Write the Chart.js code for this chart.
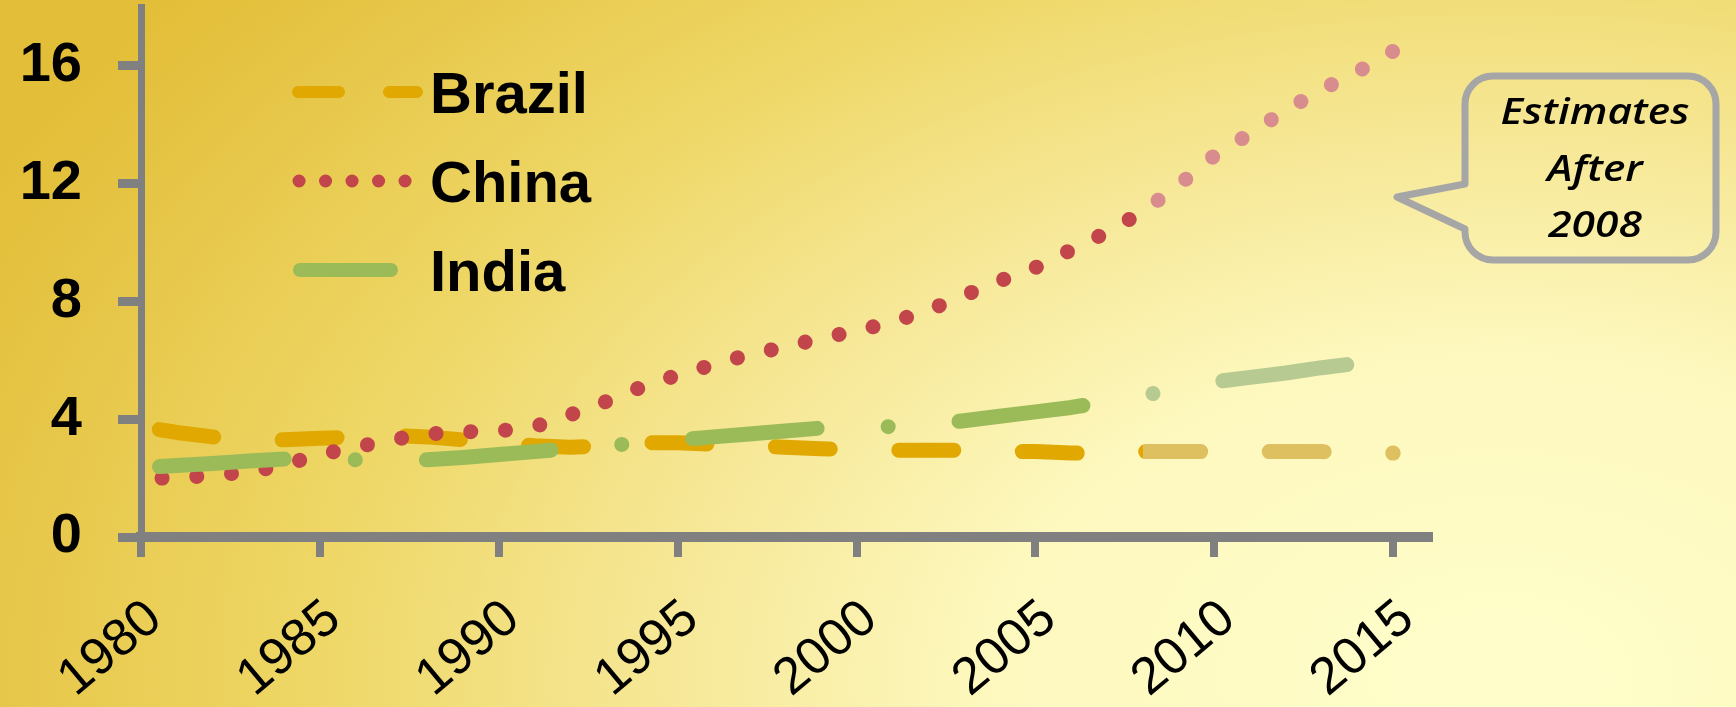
<!DOCTYPE html>
<html>
<head>
<meta charset="utf-8">
<script src="https://cdn.jsdelivr.net/npm/chart.js@4.4.1/dist/chart.umd.min.js"></script>
<style>
  html, body { margin: 0; padding: 0; }
  body {
    width: 1736px; height: 707px; overflow: hidden;
    background: radial-gradient(ellipse 1700px 1100px at 1500px 680px,
      #FFFECB 0%, #FDF8BE 30%, #F6E795 50%, #EED766 70%, #E6C546 90%, #E3BE38 100%);
  }
  canvas { display: block; }
</style>
</head>
<body>
<canvas id="chart" width="1736" height="707"></canvas>
<script>
// Years on the horizontal axis
const years = [1980, 1981, 1982, 1983, 1984, 1985, 1986, 1987, 1988, 1989,
               1990, 1991, 1992, 1993, 1994, 1995, 1996, 1997, 1998, 1999,
               2000, 2001, 2002, 2003, 2004, 2005, 2006, 2007, 2008, 2009,
               2010, 2011, 2012, 2013, 2014, 2015];

// Series values (share, %) per year
const brazil = [3.75, 3.55, 3.4, 3.3, 3.3, 3.35, 3.4, 3.45, 3.4, 3.3,
                3.2, 3.1, 3.05, 3.1, 3.2, 3.2, 3.15, 3.1, 3.05, 3.0,
                2.95, 2.95, 2.95, 2.95, 2.9, 2.9, 2.85, 2.85, 2.9, 2.9,
                2.9, 2.9, 2.9, 2.9, 2.85, 2.85];
const china  = [2.0, 2.0, 2.1, 2.2, 2.45, 2.8, 3.05, 3.3, 3.5, 3.57,
                3.6, 3.75, 4.15, 4.6, 5.1, 5.5, 5.85, 6.2, 6.45, 6.75,
                7.0, 7.3, 7.7, 8.2, 8.7, 9.15, 9.75, 10.35, 11.05, 11.95,
                12.95, 13.7, 14.5, 15.2, 15.8, 16.5];
const india  = [2.35, 2.43, 2.5, 2.58, 2.65, 2.65, 2.62, 2.6, 2.62, 2.7,
                2.8, 2.9, 3.0, 3.1, 3.2, 3.3, 3.4, 3.5, 3.6, 3.7,
                3.72, 3.75, 3.8, 3.95, 4.1, 4.25, 4.4, 4.6, 4.8, 5.05,
                5.27, 5.42, 5.57, 5.75, 5.9];

const seriesNames = ['Brazil', 'China', 'India'];
const yearTicks  = [1980, 1985, 1990, 1995, 2000, 2005, 2010, 2015];
const valueTicks = [0, 4, 8, 12, 16];
const estimateFrom = 2008;
const calloutLines = ['Estimates', 'After', '2008'];

const FONT = "'Liberation Sans', Arial, sans-serif";
const AXIS_GREY = '#808080';

// Line styles: actual colour, colour for estimated years, dash pattern
const styles = [
  { color: '#E0A800', est: '#DEC060', width: 15, dash: [55, 68.5], offset: 105,
    legendDash: [41, 50], legendWidth: 12, legendFrom: 298, legendTo: 417 },
  { color: '#C2454B', est: '#D98C8E', width: 15, dash: [0.1, 34.7], offset: 13.8,
    legendDash: [0.1, 26.4], legendWidth: 13, legendFrom: 299, legendTo: 405.2 },
  { color: '#9BBB59', est: '#B7CA91', width: 15, dash: [125, 71, 0.1, 71], offset: 248.6,
    legendDash: [], legendWidth: 14, legendFrom: 300, legendTo: 391 }
];

// Horizontal gradient with a hard switch at the first estimated year
function splitStroke(style) {
  return (ctx) => {
    const chart = ctx.chart;
    const area = chart.chartArea;
    if (!area) return style.color;
    const xs = chart.scales.x.getPixelForValue(estimateFrom);
    const t = Math.min(1, Math.max(0, (xs - area.left) / (area.right - area.left)));
    const g = chart.ctx.createLinearGradient(area.left, 0, area.right, 0);
    g.addColorStop(0, style.color);
    g.addColorStop(t, style.color);
    g.addColorStop(t, style.est);
    g.addColorStop(1, style.est);
    return g;
  };
}

function makeDataset(i, values, order) {
  const s = styles[i];
  return {
    label: seriesNames[i],
    data: values,
    order: order,
    borderColor: splitStroke(s),
    borderWidth: s.width,
    borderDash: s.dash,
    borderDashOffset: s.offset,
    borderCapStyle: 'round',
    borderJoinStyle: 'round',
    pointRadius: 0,
    pointHoverRadius: 0,
    fill: false,
    tension: 0
  };
}

// Legend drawn inside the plot, top-left
const insetLegend = {
  id: 'insetLegend',
  afterDraw(chart) {
    const c = chart.ctx;
    c.save();
    chart.data.datasets.forEach((ds, i) => {
      const s = styles[i];
      const baseline = 113 + i * 89;
      const mid = baseline - 21;
      c.beginPath();
      c.strokeStyle = s.color;
      c.lineWidth = s.legendWidth;
      c.lineCap = 'round';
      c.setLineDash(s.legendDash);
      c.lineDashOffset = 0;
      c.moveTo(s.legendFrom, mid);
      c.lineTo(s.legendTo, mid);
      c.stroke();
      c.setLineDash([]);
      c.fillStyle = '#000';
      c.font = 'bold 58px ' + FONT;
      c.textAlign = 'left';
      c.textBaseline = 'alphabetic';
      c.fillText(ds.label, 430, baseline);
    });
    c.restore();
  }
};

// Speech-bubble note on the right
const noteBubble = {
  id: 'noteBubble',
  afterDraw(chart) {
    const c = chart.ctx;
    const L = 1465, T = 76, R = 1716, B = 260, r = 28;
    const tipX = 1397, tipY = 197, baseTop = 184, baseBottom = 229;
    c.save();
    c.beginPath();
    c.moveTo(L + r, T);
    c.lineTo(R - r, T);
    c.arcTo(R, T, R, T + r, r);
    c.lineTo(R, B - r);
    c.arcTo(R, B, R - r, B, r);
    c.lineTo(L + r, B);
    c.arcTo(L, B, L, B - r, r);
    c.lineTo(L, baseBottom);
    c.lineTo(tipX, tipY);
    c.lineTo(L, baseTop);
    c.lineTo(L, T + r);
    c.arcTo(L, T, L + r, T, r);
    c.closePath();
    c.lineWidth = 7;
    c.lineJoin = 'round';
    c.strokeStyle = '#A6A6A6';
    c.stroke();

    c.fillStyle = '#000';
    c.font = "italic 600 36px 'Open Sans', 'DejaVu Sans', sans-serif";
    c.textAlign = 'center';
    c.textBaseline = 'alphabetic';
    const baselines = [124, 181, 237];
    calloutLines.forEach((txt, k) => {
      c.save();
      c.translate(1595, baselines[k]);
      c.scale(1.18, 1);
      c.fillText(txt, 0, 0);
      c.restore();
    });
    c.restore();
  }
};

new Chart(document.getElementById('chart'), {
  type: 'line',
  data: {
    labels: years,
    datasets: [
      makeDataset(0, brazil, 2),
      makeDataset(1, china, 1),
      makeDataset(2, india, 0)
    ]
  },
  options: {
    responsive: false,
    animation: false,
    devicePixelRatio: 1,
    layout: { padding: { left: 0, top: 7, right: 307, bottom: 0 } },
    plugins: {
      legend: { display: false },
      tooltip: { enabled: false }
    },
    scales: {
      x: {
        type: 'linear',
        min: 1980,
        max: 2016,
        afterBuildTicks: (s) => { s.ticks = yearTicks.map(v => ({ value: v })); },
        afterFit: (s) => { s.height = 170; s.paddingLeft = 0; s.paddingRight = 0; },
        border: { display: true, color: AXIS_GREY, width: 10 },
        grid: { drawOnChartArea: false, drawTicks: true, tickLength: 20, color: AXIS_GREY, lineWidth: 8 },
        ticks: {
          autoSkip: false,
          minRotation: 40,
          maxRotation: 40,
          labelOffset: 14,
          padding: 31,
          color: '#000',
          font: { family: FONT, size: 52, weight: 'normal' },
          callback: (v) => String(v)
        }
      },
      y: {
        min: 0,
        max: 18,
        afterBuildTicks: (s) => { s.ticks = valueTicks.map(v => ({ value: v })); },
        afterFit: (s) => { s.width = 141; s.paddingTop = 0; s.paddingBottom = 0; },
        border: { display: true, color: AXIS_GREY, width: 7 },
        grid: { drawOnChartArea: false, drawTicks: true, tickLength: 23, color: AXIS_GREY, lineWidth: 9 },
        ticks: {
          padding: 36,
          color: '#000',
          font: { family: FONT, size: 56, weight: 'bold' },
          callback: (v) => String(v)
        }
      }
    }
  },
  plugins: [insetLegend, noteBubble]
});
</script>
</body>
</html>
